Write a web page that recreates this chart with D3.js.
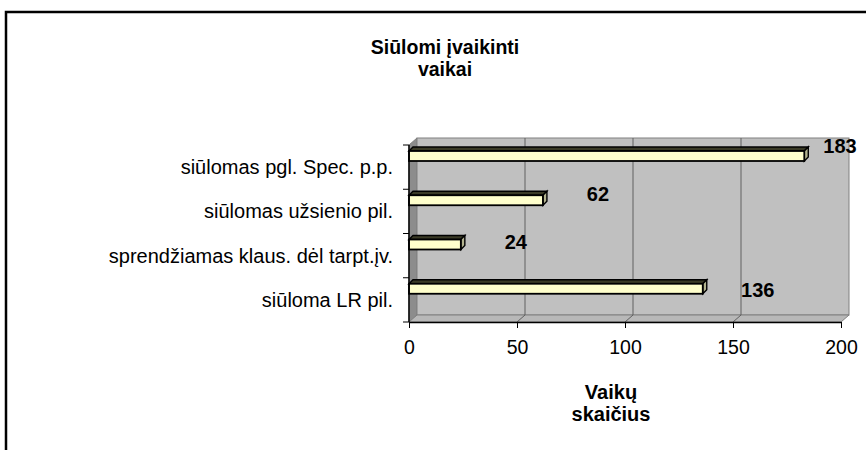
<!DOCTYPE html>
<html><head><meta charset="utf-8">
<script src="https://cdn.jsdelivr.net/npm/d3@7"></script>
<style>body{margin:0;background:#fff} svg{display:block} text{font-family:"Liberation Sans",Arial,sans-serif}</style>
</head><body>
<svg id="c" width="866" height="450"></svg>
<script>
const categories = ["siūlomas pgl. Spec. p.p.", "siūlomas užsienio pil.", "sprendžiamas klaus. dėl tarpt.įv.", "siūloma LR pil."];
const values = [183, 62, 24, 136];
const xTicks = [0, 50, 100, 150, 200];
const titleLines = ["Siūlomi įvaikinti", "vaikai"];
const axisTitleLines = ["Vaikų", "skaičius"];

const svg = d3.select("#c");
const x = d3.scaleLinear().domain([0, 200]).range([409, 841]);
const y = d3.scaleBand().domain(categories).range([145, 322]);
const DX = 8, DY = -7;   // wall depth
const BX = 4, BY = -4;   // bar depth
const x0 = x(0), xMax = x(200), yTop = y.range()[0], yBot = y.range()[1];

// outer frame
svg.append("rect").attr("x", 6).attr("y", 12).attr("width", 900).attr("height", 500)
  .attr("fill", "none").attr("stroke", "#000").attr("stroke-width", 2.5);

// side wall
svg.append("path").attr("d", `M${x0},${yTop}L${x0+DX},${yTop+DY}L${x0+DX},${yBot+DY}L${x0},${yBot}Z`)
  .attr("fill", "#8c8c8c").attr("stroke", "#808080");
// back wall
svg.append("rect").attr("x", x0 + DX).attr("y", yTop + DY).attr("width", xMax - x0).attr("height", yBot - yTop)
  .attr("fill", "#c0c0c0").attr("stroke", "#808080");
// floor
svg.append("path").attr("d", `M${x0},${yBot}L${x0+DX},${yBot+DY}L${xMax+DX},${yBot+DY}L${xMax},${yBot}Z`)
  .attr("fill", "#b8b8b8").attr("stroke", "#808080");
// gridlines
svg.selectAll(".grid").data(xTicks.filter(v => v > 0 && v < 200)).join("path").attr("class", "grid")
  .attr("d", v => `M${x(v)+DX},${yTop+DY}L${x(v)+DX},${yBot+DY}L${x(v)},${yBot}`)
  .attr("fill", "none").attr("stroke", "#606060");

// bars
const BOFF = 6, BH = 10;
const bars = svg.selectAll(".bar").data(values).join("g").attr("class", "bar");
bars.append("path").attr("d", (v, i) => {
  const yt = y(categories[i]) + BOFF, xe = x(v);
  return `M${x0},${yt}L${x0+BX},${yt+BY}L${xe+BX},${yt+BY}L${xe},${yt}Z`;
}).attr("fill", "#3a3a26").attr("stroke", "#000").attr("stroke-width", 1.4);
bars.append("path").attr("d", (v, i) => {
  const yt = y(categories[i]) + BOFF, xe = x(v);
  return `M${xe},${yt}L${xe+BX},${yt+BY}L${xe+BX},${yt+BH+BY}L${xe},${yt+BH}Z`;
}).attr("fill", "#b3b38f").attr("stroke", "#000").attr("stroke-width", 1.4);
bars.append("rect").attr("x", x0).attr("y", (v, i) => y(categories[i]) + BOFF)
  .attr("width", v => x(v) - x0).attr("height", BH)
  .attr("fill", "#ffffcc").attr("stroke", "#000").attr("stroke-width", 1.8);

// axes lines
svg.append("line").attr("x1", x0).attr("x2", x0).attr("y1", yTop).attr("y2", yBot).attr("stroke", "#000").attr("stroke-width", 1.5);
// category ticks at band boundaries
svg.selectAll(".ctick").data(d3.range(categories.length + 1)).join("line").attr("class", "ctick")
  .attr("x1", x0 - 6).attr("x2", x0).attr("y1", k => yTop + k * y.step()).attr("y2", k => yTop + k * y.step())
  .attr("stroke", "#000");
// category labels
svg.selectAll(".clab").data(categories).join("text").attr("class", "clab")
  .attr("x", x0 - 16).attr("y", c => y(c) + y.bandwidth() / 2).attr("dy", "0.35em")
  .attr("text-anchor", "end").attr("font-size", 20).text(c => c);

// x axis
const xa = svg.append("g").attr("transform", `translate(0,${yBot})`)
  .call(d3.axisBottom(x).tickValues(xTicks).tickSize(6).tickSizeOuter(0).tickPadding(12));
xa.select(".domain").attr("stroke", "#000").attr("stroke-width", 1.5);
xa.selectAll("text").attr("font-size", 19.5).attr("font-family", '"Liberation Sans",Arial,sans-serif').attr("fill", "#000");

// data labels
svg.selectAll(".dlab").data(values).join("text").attr("class", "dlab")
  .attr("x", v => Math.min(x(v) + 55, 840))
  .attr("y", (v, i) => y(categories[i]) + 1 + i * 3.7).attr("dy", "0.35em")
  .attr("text-anchor", "middle").attr("font-size", 20).attr("font-weight", "bold").text(v => v);

// title
svg.append("text").attr("x", 445).attr("y", 54).attr("text-anchor", "middle")
  .attr("font-size", 19.5).attr("font-weight", "bold")
  .selectAll("tspan").data(titleLines).join("tspan").attr("x", 445).attr("dy", (d, i) => i ? 22 : 0).text(d => d);

// axis title
svg.append("text").attr("x", 611).attr("y", 399).attr("text-anchor", "middle")
  .attr("font-size", 20).attr("font-weight", "bold")
  .selectAll("tspan").data(axisTitleLines).join("tspan").attr("x", 611).attr("dy", (d, i) => i ? 22 : 0).text(d => d);
</script>
</body></html>
